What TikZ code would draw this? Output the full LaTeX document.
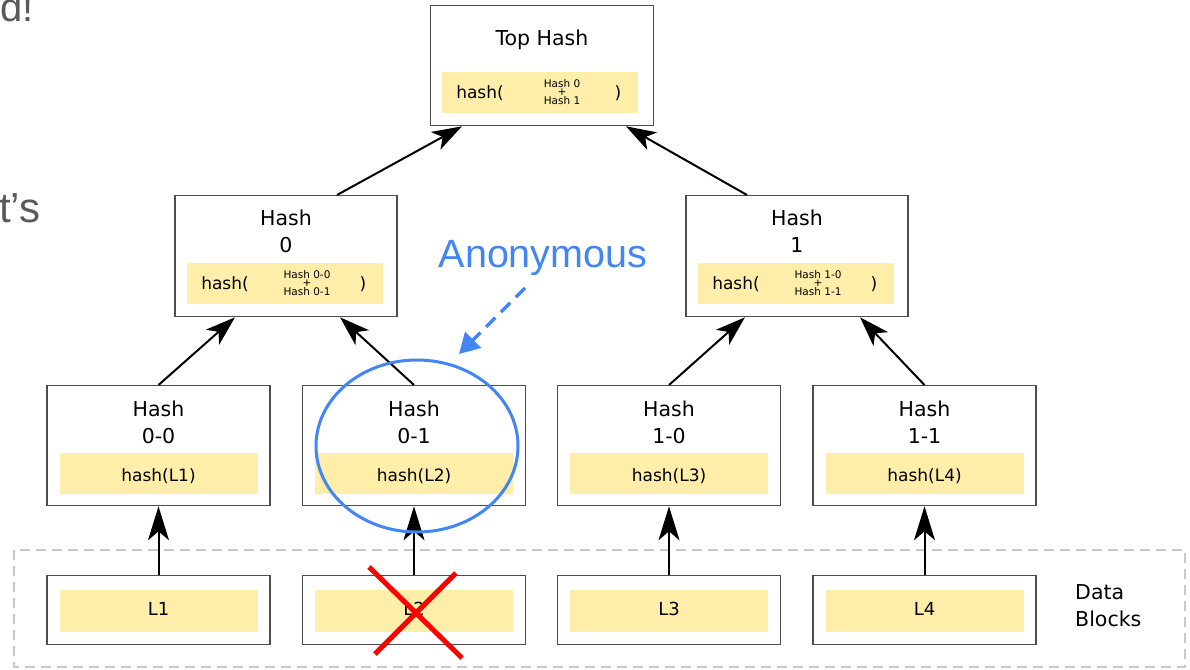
\documentclass[tikz,border=0pt]{standalone}
\usepackage{fontspec}
\setmainfont{DejaVu Sans}
\newfontfamily\slidefont{Liberation Sans}
\usetikzlibrary{arrows.meta}

\definecolor{boxline}{HTML}{4D4D4D}
\definecolor{band}{HTML}{FFEEAA}
\definecolor{gblue}{HTML}{4285F4}
\definecolor{slidegray}{HTML}{595959}
\definecolor{dashgray}{HTML}{C8C8C8}

\tikzset{
  hbox/.style={draw=boxline, line width=1.3pt, fill=white, inner sep=0pt,
               minimum width=223pt, anchor=north},
  bandbox/.style={fill=band, inner sep=0pt, minimum width=198pt, minimum height=41pt},
  title/.style={font=\fontsize{20.5}{27}\selectfont, align=center, inner sep=0pt},
  bandtxt/.style={font=\fontsize{17}{20}\selectfont, inner sep=0pt},
  tiny/.style={font=\fontsize{10.5}{12}\selectfont, inner sep=0pt},
  uparrow/.style={line width=2pt, -{Stealth[length=34pt, width=21pt, inset=9pt]}},
  treearrow/.style={line width=2pt, -{Stealth[length=30pt, width=20pt, inset=8pt]}},
}

\newcommand{\combo}[4]{% x, y, upper label, lower label
  \node[bandtxt] at (#1-60,#2+1) {hash(};
  \node[tiny] at (#1+22,#2-8.5) {#3};
  \node[tiny] at (#1+22,#2) {+};
  \node[tiny] at (#1+22,#2+8.5) {#4};
  \node[bandtxt] at (#1+78,#2+1) {)};
}

\begin{document}
\begin{tikzpicture}[x=1pt, y=-1pt]
\useasboundingbox (0,0) rectangle (1190,669);

% cut-off slide text on the left
\node[font=\slidefont\fontsize{40}{40}\selectfont, text=slidegray, inner sep=0pt, anchor=base west] (slideA) at (0,22) {d!};
\node[font=\slidefont\fontsize{42}{42}\selectfont, text=slidegray, inner sep=0pt, anchor=base west] (slideB) at (-1,222) {t’s};

% data block frame
\draw[dashgray, line width=1.6pt, dash pattern=on 10pt off 6pt] (14,550) rectangle (1185,667);
\node[title, align=left, anchor=west] (datalbl) at (1075,606) {Data\\Blocks};

% top hash
\node[hbox, minimum height=120pt] (top) at (542,5) {};
\node[title] at (542,40) {Top Hash};
\node[bandbox, minimum width=196pt] at (540,92) {};
\combo{540}{92}{Hash 0}{Hash 1}

% second level
\foreach \name/\cx/\lbl/\a/\b in {h0/286/0/Hash 0-0/Hash 0-1, h1/797/1/Hash 1-0/Hash 1-1}{
  \node[hbox, minimum width=222pt, minimum height=121pt] (\name) at (\cx,195) {};
  \node[title] at (\cx,231) {Hash\\\lbl};
  \node[bandbox, minimum width=196pt] at (\cx-1,283.5) {};
  \combo{\cx-1}{283.5}{\a}{\b}
}

% leaf hashes and data blocks
\foreach \name/\cx/\lbl/\dat in {h00/158.5/0-0/L1, h01/414/0-1/L2, h10/669/1-0/L3, h11/924.5/1-1/L4}{
  \node[hbox, minimum height=120pt] (\name) at (\cx,385) {};
  \node[title] at (\cx,422) {Hash\\\lbl};
  \node[bandbox] at (\cx,473.5) {};
  \node[bandtxt] at (\cx,476) {hash(\dat)};
  \node[hbox, minimum height=69pt] (d\name) at (\cx,575) {};
  \node[bandbox, minimum height=42pt] at (\cx,611) {};
  \node[font=\fontsize{18}{20}\selectfont, inner sep=0pt] at (\cx,609) {\dat};
  \draw[uparrow] (d\name.north) -- (\name.south);
}

% tree connectors
\draw[treearrow] (h00.north) -- ([xshift=-51pt]h0.south);
\draw[treearrow] (h01.north) -- ([xshift=54pt]h0.south);
\draw[treearrow] (h10.north) -- ([xshift=-52pt]h1.south);
\draw[treearrow] (h11.north) -- ([xshift=63pt]h1.south);
\draw[treearrow] ([xshift=51pt]h0.north) -- ([xshift=-80pt]top.south);
\draw[treearrow] ([xshift=-50pt]h1.north) -- ([xshift=84pt]top.south);

% highlight of the hidden leaf
\draw[gblue, line width=3pt] (417,446) ellipse [x radius=101pt, y radius=86pt];
\node[font=\slidefont\fontsize{39.5}{40}\selectfont, text=gblue, inner sep=0pt] (anon) at (543,258) {Anonymous};
\coordinate (anonTip) at (459,354);
\draw[gblue, line width=3.5pt, dash pattern=on 13pt off 8pt,
      -{Triangle[length=20pt, width=22pt]}] (525,288) -- (anonTip);

% crossed-out block
\draw[red, line width=5pt] (369,567) -- (462,658);
\draw[red, line width=5pt] (456,573) -- (375,654);
\end{tikzpicture}
\end{document}
